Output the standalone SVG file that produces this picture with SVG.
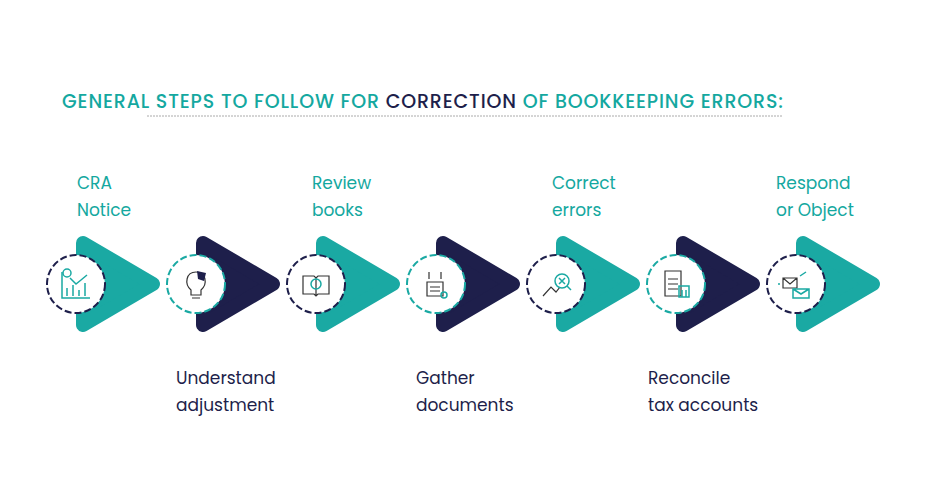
<svg xmlns="http://www.w3.org/2000/svg" width="936" height="489" viewBox="0 0 936 489">
<defs>
<style>
.t{font-family:Poppins,"Open Sans","Liberation Sans",sans-serif;font-size:17px}
.up{fill:#14a8a0}.dn{fill:#1e1f4b}
.tri{stroke-linejoin:round;stroke-width:14}
.tt{fill:#1aa9a3;stroke:#1aa9a3}.tn{fill:#1e1f4b;stroke:#1e1f4b}
.c{fill:#fff;stroke-width:2;stroke-dasharray:7 3}
.ic{fill:none;stroke:#1aa9a3;stroke-width:1.5}
.ik{fill:none;stroke:#333;stroke-width:1.2}
</style>
<path id="tri" d="M7,-41 L77,0 L7,41 Z"/>
</defs>
<rect width="936" height="489" fill="#fff"/>
<text x="62" y="108" textLength="721" lengthAdjust="spacing" font-family="Poppins,'Open Sans','Liberation Sans',sans-serif" font-size="19" fill="#14a8a0" font-weight="500">GENERAL STEPS TO FOLLOW FOR <tspan fill="#1e1f4b">CORRECTION</tspan> OF BOOKKEEPING ERRORS:</text>
<line x1="147" y1="116" x2="783" y2="116" stroke="#aaa" stroke-width="1" stroke-dasharray="2 1"/>
<g id="connectors"/>
<g id="n1" transform="translate(76,284)"><use href="#tri" x="0" class="tri tt"/><circle r="29" class="c" stroke="#1e1f4b"/>
<path class="ic" d="M-14,-12 V14 H14 M-9,12 V4 M-3,12 V1 M3,12 V6 M9,12 V-1 M-6,-6 L0,0 L5,-4 L11,-9"/><circle cx="-9" cy="-11" r="4" class="ic"/></g>
<g id="n2" transform="translate(196,284)"><use href="#tri" class="tri tn"/><circle r="29" class="c" stroke="#1aa9a3"/>
<path class="ik" d="M-5,6 C-12,0 -10,-12 0,-12 C10,-12 12,0 5,6 V11 H-5 Z M-4,14 H4"/><path d="M1,-13 L10,-11 L8,-3 L2,-5 Z" fill="#1e1f4b"/></g>
<g id="n3" transform="translate(316,284)"><use href="#tri" class="tri tt"/><circle r="29" class="c" stroke="#1e1f4b"/>
<path class="ik" d="M-13,-8 H-2 L0,-6 L2,-8 H13 V10 H2 L0,12 L-2,10 H-13 Z M0,-6 V12"/><circle r="5" class="ic"/></g>
<g id="n4" transform="translate(436,284)"><use href="#tri" class="tri tn"/><circle r="29" class="c" stroke="#1aa9a3"/>
<path class="ik" d="M-9,-2 H7 V12 H-9 Z M-6,3 H4 M-6,7 H4 M-7,-12 V-5 M5,-12 V-5"/><circle cx="8" cy="11" r="3" class="ic"/></g>
<g id="n5" transform="translate(556,284)"><use href="#tri" class="tri tt"/><circle r="29" class="c" stroke="#1e1f4b"/>
<path class="ik" d="M-13,12 L-5,3 L0,8 L4,3"/><circle cx="6" cy="-3" r="7" class="ic"/><path class="ic" d="M3,-6 L9,0 M9,-6 L3,0 M11,2 L15,6"/></g>
<g id="n6" transform="translate(676,284)"><use href="#tri" class="tri tn"/><circle r="29" class="c" stroke="#1aa9a3"/>
<path class="ik" d="M-11,-13 H5 V12 H-11 Z M-8,-5 H2 M-8,0 H2 M-8,5 H2"/><path class="ic" d="M3,2 H13 V13 H3 Z M6,6 V13 M10,6 V13"/></g>
<g id="n7" transform="translate(796,284)"><use href="#tri" class="tri tt"/><circle r="29" class="c" stroke="#1e1f4b"/>
<path class="ik" d="M-13,-6 H1 V4 H-13 Z M-13,-6 L-6,0 L1,-6"/><path class="ic" d="M-3,5 H13 V14 H-3 Z M-3,5 L5,10 L13,5 M-16,0 H-18 M4,-8 L10,-12"/></g>
<g id="labels" class="t">
<text class="up" x="77" y="189">CRA</text><text class="up" x="77" y="216">Notice</text>
<text class="up" x="312" y="189">Review</text><text class="up" x="312" y="216">books</text>
<text class="up" x="552" y="189">Correct</text><text class="up" x="552" y="216">errors</text>
<text class="up" x="776" y="189">Respond</text><text class="up" x="776" y="216">or Object</text>
<text class="dn" x="176" y="384">Understand</text><text class="dn" x="176" y="411">adjustment</text>
<text class="dn" x="416" y="384">Gather</text><text class="dn" x="416" y="411">documents</text>
<text class="dn" x="648" y="384">Reconcile</text><text class="dn" x="648" y="411">tax accounts</text>
</g>
</svg>
